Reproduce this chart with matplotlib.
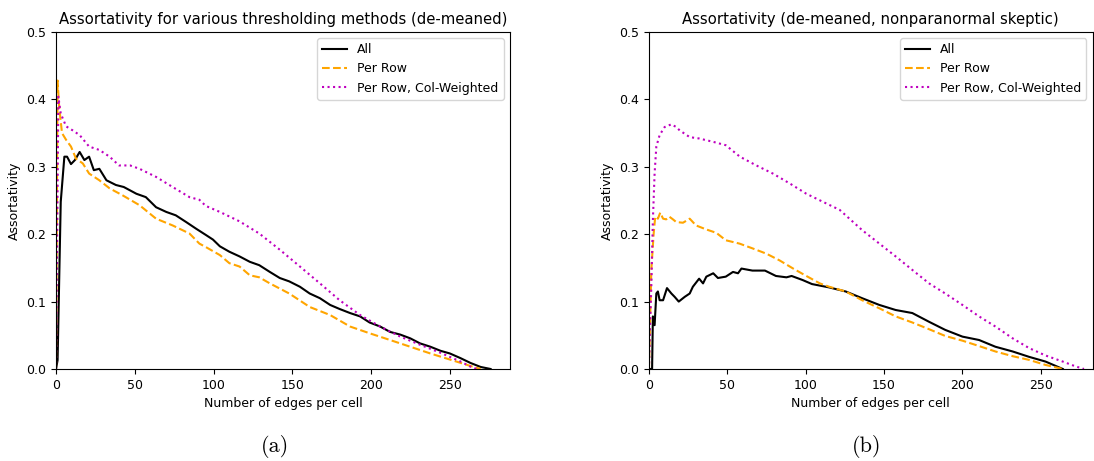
import numpy as np
import matplotlib
matplotlib.use("Agg")
import matplotlib.pyplot as plt

# (a) de-meaned
a_all_x = [0, 1, 3, 5.3, 7, 9.5, 12, 15, 18, 21, 24, 27.5, 32, 38, 43, 51, 57, 63.5, 70, 76, 82.6,
           89, 95, 99.6, 104, 110, 116.5, 123, 129, 135.7, 142, 148, 154.8, 161, 167.5, 174, 180,
           186.6, 193, 199, 205.7, 212, 218.5, 224.8, 231, 237.6, 244, 250, 256.8, 263, 269.5, 275.8]
a_all_y = [0.0, 0.013, 0.248, 0.315, 0.315, 0.304, 0.31, 0.322, 0.31, 0.315, 0.295, 0.297, 0.28,
           0.273, 0.27, 0.26, 0.255, 0.24, 0.233, 0.228, 0.218, 0.208, 0.199, 0.192, 0.182, 0.174,
           0.167, 0.159, 0.154, 0.144, 0.135, 0.13, 0.122, 0.112, 0.105, 0.095, 0.089, 0.083, 0.078,
           0.069, 0.063, 0.055, 0.051, 0.0455, 0.038, 0.033, 0.027, 0.023, 0.016, 0.009, 0.003, 0.0]

a_row_x = [0, 1, 2, 3.8, 6.4, 9.5, 12.7, 17, 21, 27.5, 34, 42, 53, 63.5, 74, 84.7, 91, 95, 104,
           110, 116.5, 123, 129, 135.7, 148, 161, 174, 186.6, 199, 212, 224.8, 237.6, 250, 263, 269.5]
a_row_y = [0.0, 0.428, 0.389, 0.35, 0.34, 0.33, 0.312, 0.305, 0.29, 0.28, 0.268, 0.258, 0.243,
           0.223, 0.213, 0.201, 0.186, 0.181, 0.169, 0.157, 0.152, 0.139, 0.136, 0.127, 0.112,
           0.092, 0.08, 0.063, 0.053, 0.043, 0.033, 0.023, 0.014, 0.0045, 0.0]

a_colw_x = [0, 1.5, 3, 6.4, 10.6, 15, 21, 27.5, 34, 40, 47, 53, 63.5, 74, 84.7, 91, 95, 104, 116.5,
            129, 142, 154.8, 167.5, 180, 193, 205.7, 218.5, 231, 244, 256.8, 263, 267]
a_colw_y = [0.0, 0.404, 0.379, 0.36, 0.354, 0.347, 0.33, 0.325, 0.315, 0.302, 0.302, 0.297, 0.285,
            0.27, 0.255, 0.251, 0.242, 0.233, 0.219, 0.201, 0.177, 0.152, 0.127, 0.102, 0.08,
            0.063, 0.048, 0.036, 0.024, 0.011, 0.0035, 0.0]

# (b) de-meaned, nonparanormal skeptic
b_all_x = [0, 2, 2.5, 3.6, 4.7, 5.7, 6.8, 9, 11.5, 14.3, 16.4, 19, 22.8, 26, 28, 32, 34.5, 36.6,
           41, 44, 49, 53.6, 56.8, 59, 66, 74, 81, 87.7, 91, 98, 104, 115, 125.5, 136, 147, 157.4,
           168, 178.7, 189, 200, 210.6, 221, 232, 242.5, 253, 264]
b_all_y = [0.0, 0.0, 0.078, 0.065, 0.112, 0.115, 0.102, 0.102, 0.12, 0.112, 0.107, 0.1, 0.107,
           0.112, 0.122, 0.134, 0.127, 0.137, 0.142, 0.135, 0.137, 0.144, 0.142, 0.149, 0.146,
           0.146, 0.138, 0.136, 0.138, 0.132, 0.126, 0.121, 0.115, 0.105, 0.095, 0.0875, 0.083,
           0.07, 0.058, 0.048, 0.043, 0.033, 0.026, 0.018, 0.011, 0.0]

b_row_x = [0, 1.5, 3, 4, 5.7, 7.2, 9, 11, 13, 15.3, 17.4, 21.7, 26, 30, 36.6, 43, 49, 57.8, 66, 75,
           83.4, 92, 100.4, 109, 115, 125.5, 136, 147, 157.4, 168, 178.7, 189, 200, 210.6, 221,
           232, 242.5, 253, 264]
b_row_y = [0.0, 0.147, 0.201, 0.226, 0.223, 0.232, 0.223, 0.222, 0.226, 0.222, 0.218, 0.217, 0.223,
           0.213, 0.207, 0.202, 0.191, 0.186, 0.179, 0.171, 0.161, 0.149, 0.138, 0.127, 0.122,
           0.115, 0.102, 0.09, 0.078, 0.069, 0.059, 0.049, 0.042, 0.034, 0.026, 0.019, 0.0135,
           0.006, 0.0]

b_colw_x = [0, 0.5, 1.5, 2.5, 3.6, 4.7, 6.8, 10, 14.3, 17.4, 19.6, 26, 32, 41, 49, 58, 68.5, 79,
            90, 100.4, 111, 121.7, 136, 147, 157.4, 168, 178.7, 189, 200, 210.6, 221, 232, 242.5,
            253, 264, 272, 277.5]
b_colw_y = [0.0, 0.048, 0.122, 0.221, 0.29, 0.33, 0.347, 0.359, 0.363, 0.359, 0.354, 0.344, 0.342,
            0.337, 0.332, 0.315, 0.302, 0.29, 0.275, 0.26, 0.248, 0.236, 0.206, 0.186, 0.167,
            0.147, 0.127, 0.112, 0.095, 0.078, 0.063, 0.0455, 0.031, 0.02, 0.011, 0.004, 0.0]

titles = ["Assortativity for various thresholding methods (de-meaned)",
          "Assortativity (de-meaned, nonparanormal skeptic)"]
captions = ["(a)", "(b)"]
labels = ["All", "Per Row", "Per Row, Col-Weighted"]

fig = plt.figure(figsize=(10.94, 4.61), dpi=100)
ax1 = fig.add_axes([0.0512, 0.1996, 0.4148, 0.731])
ax2 = fig.add_axes([0.5932, 0.1996, 0.4055, 0.731])

panels = [
    (ax1, a_all_x, a_all_y, a_row_x, a_row_y, a_colw_x, a_colw_y, 288),
    (ax2, b_all_x, b_all_y, b_row_x, b_row_y, b_colw_x, b_colw_y, 283),
]

for i, (ax, ax_, ay, rx, ry, cx, cy, xmax) in enumerate(panels):
    ax.plot(ax_, ay, color="black", lw=1.5, label=labels[0])
    ax.plot(rx, ry, color="orange", ls="--", lw=1.5, label=labels[1])
    ax.plot(cx, cy, color="m", ls=":", lw=1.5, label=labels[2])
    ax.set_xlim(0, xmax)
    ax.set_ylim(0, 0.5)
    ax.set_xticks([0, 50, 100, 150, 200, 250])
    ax.set_yticks([0.0, 0.1, 0.2, 0.3, 0.4, 0.5])
    ax.tick_params(labelsize=9)
    ax.set_title(titles[i], fontsize=10.7)
    ax.set_xlabel("Number of edges per cell", fontsize=9)
    ax.set_ylabel("Assortativity", fontsize=9)
    ax.legend(loc="upper right", fontsize=9)

fig.text(0.251, 0.02, captions[0], fontsize=16, family="cmr10", ha="center", va="baseline")
fig.text(0.792, 0.02, captions[1], fontsize=16, family="cmr10", ha="center", va="baseline")

fig.savefig("out.png", dpi=100)
